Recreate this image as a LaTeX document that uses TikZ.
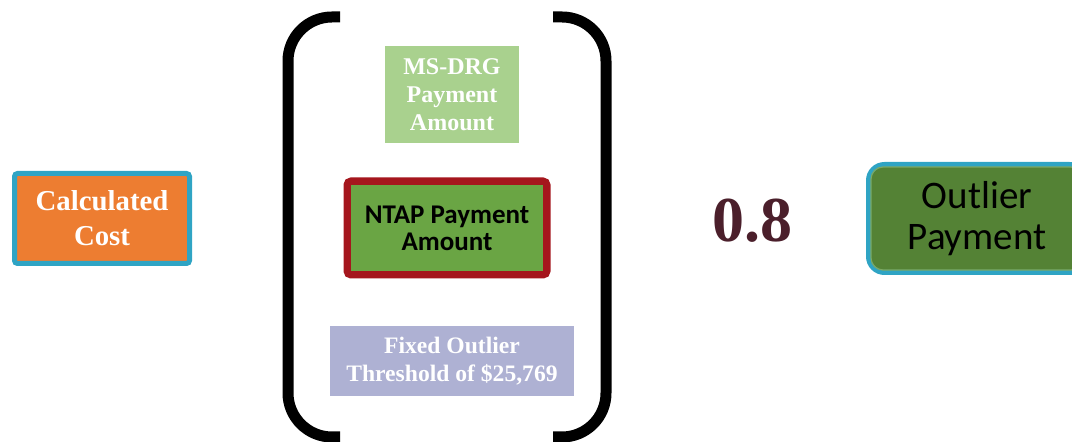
\documentclass[tikz,border=0pt]{standalone}
\usepackage{fontspec}
\setmainfont{Liberation Serif}
\newfontfamily\calibri{Carlito}
\definecolor{costOrange}{HTML}{ED7D31}
\definecolor{frameTeal}{HTML}{2FA4C4}
\definecolor{drgGreen}{HTML}{A9D18E}
\definecolor{ntapGreen}{HTML}{6AA544}
\definecolor{ntapRed}{HTML}{A5161D}
\definecolor{fixedLav}{HTML}{AEB1D3}
\definecolor{factorWine}{HTML}{4B1F2B}
\definecolor{outlierGreen}{HTML}{548235}
\definecolor{outlierEdge}{HTML}{7DA862}
\tikzset{
  termbox/.style={align=center, inner sep=0pt, text=white, font=\bfseries\fontsize{12}{14}\selectfont},
  bracket/.style={line width=5.5pt, rounded corners=22pt},
}
\begin{document}
\begin{tikzpicture}[x=0.5pt, y=-0.5pt]
      \useasboundingbox (0,0) rectangle (1072,442);
      \clip (0,0) rectangle (1072,442);

      % Left term
      \node[termbox, fill=costOrange, draw=frameTeal, line width=2.5pt, rounded corners=1.5pt,
            minimum width=87.5pt, minimum height=45pt, font=\bfseries\fontsize{14.4}{17.5}\selectfont]
            (cost) at (102,218.5) {Calculated\\Cost};

      % Brackets
      \draw[bracket] (340,17) -- (288,17) -- (288,437) -- (340,437);
      \draw[bracket] (553,17) -- (606,17) -- (606,437) -- (553,437);

      % Inside the brackets
      \node[termbox, fill=drgGreen, minimum width=67pt, minimum height=48.5pt] (drg) at (452,94.5) {MS-DRG\\Payment\\Amount};
      \node[termbox, fill=ntapGreen, draw=ntapRed, line width=3.5pt, rounded corners=2pt, text=black,
            minimum width=100pt, minimum height=47pt, font=\calibri\bfseries\fontsize{13.5}{13.5}\selectfont]
            (ntap) at (447,228) {NTAP Payment\\Amount};
      \draw[ntapRed, line width=1pt] ([xshift=3.25pt,yshift=-3.25pt]ntap.north west) rectangle ([xshift=-3.25pt,yshift=3.25pt]ntap.south east);
      \node[termbox, fill=fixedLav, minimum width=122pt, minimum height=35pt, font=\bfseries\fontsize{11.8}{14}\selectfont]
            (fixed) at (452,361) {Fixed Outlier\\Threshold of \$25,769};

      % Factor
      \node[inner sep=0pt, text=factorWine, font=\bfseries\fontsize{32}{32}\selectfont] (factor) at (752,221) {0.8};

      % Result
      \node[fill=outlierGreen, draw=frameTeal, line width=2.5pt, rounded corners=8pt, align=center, inner sep=0pt,
            minimum width=108.5pt, minimum height=54pt, font=\calibri\fontsize{19.5}{20.5}\selectfont]
            (outlier) at (977,218.5) {Outlier\\Payment};
      \draw[outlierEdge, line width=0.6pt, rounded corners=6pt] ([xshift=2.5pt,yshift=-2.5pt]outlier.north west) rectangle ([xshift=-2.5pt,yshift=2.5pt]outlier.south east);
\end{tikzpicture}
\end{document}
